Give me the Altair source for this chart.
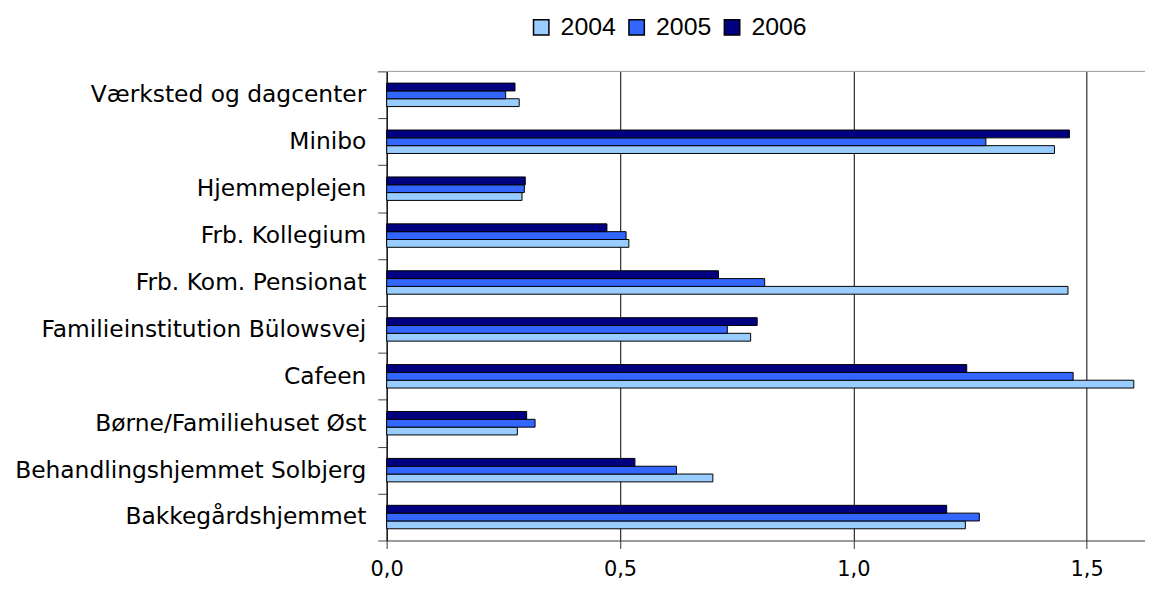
import altair as alt
import pandas as pd

categories = ["Værksted og dagcenter", "Minibo", "Hjemmeplejen", "Frb. Kollegium",
              "Frb. Kom. Pensionat", "Familieinstitution Bülowsvej", "Cafeen",
              "Børne/Familiehuset Øst", "Behandlingshjemmet Solbjerg", "Bakkegårdshjemmet"]
years = ["2004", "2005", "2006"]
v2004 = [0.284, 1.431, 0.290, 0.519, 1.460, 0.780, 1.601, 0.280, 0.699, 1.240]
v2005 = [0.255, 1.284, 0.295, 0.513, 0.810, 0.730, 1.471, 0.318, 0.621, 1.270]
v2006 = [0.275, 1.463, 0.297, 0.472, 0.711, 0.794, 1.243, 0.300, 0.532, 1.200]
colors = ["#99CCFF", "#3366FF", "#000080"]
x_ticks = [0, 0.5, 1.0, 1.5]

rows = []
for yr, vals in zip(years, [v2004, v2005, v2006]):
    for c, v in zip(categories, vals):
        rows.append({"Institution": c, "År": yr, "Værdi": v})
df = pd.DataFrame(rows)

W, H = 763, 472
STEP = H / len(categories)

bars = alt.Chart(df).mark_bar(stroke="black", strokeWidth=1).encode(
    y=alt.Y("Institution:N", sort=categories,
            scale=alt.Scale(paddingInner=0.5, paddingOuter=0.25),
            axis=alt.Axis(title=None, labelFont="DejaVu Sans",
                          labelFontSize=23.5, labelColor="black", labelLimit=500,
                          labelPadding=12, tickSize=9, tickColor="#444444",
                          tickOffset=STEP / 2, labelOffset=-STEP / 2,
                          domainColor="black", grid=False)),
    yOffset=alt.YOffset("År:N", sort=["2006", "2005", "2004"]),
    x=alt.X("Værdi:Q", scale=alt.Scale(domain=[0, 1.625], nice=False, zero=True),
            axis=alt.Axis(title=None, values=x_ticks, grid=True, gridColor="black",
                          gridOpacity=1, gridWidth=1, domainColor="#333333",
                          tickColor="#333333", tickSize=8, labelFont="DejaVu Sans",
                          labelFontSize=21, labelColor="black", labelPadding=10,
                          labelFlush=False,
                          labelExpr="replace(format(datum.value, '.1f'), '.', ',')")),
    color=alt.Color("År:N", sort=years,
                    scale=alt.Scale(domain=years, range=colors),
                    legend=alt.Legend(title=None, orient="none", legendX=143, legendY=-57,
                                      direction="horizontal", columns=3,
                                      symbolType="square", symbolSize=240,
                                      symbolStrokeColor="black", symbolStrokeWidth=1.5,
                                      symbolOpacity=1,
                                      labelFont="Liberation Sans", labelFontSize=25,
                                      labelColor="black", labelOffset=7,
                                      columnPadding=8, padding=0)),
)

border = alt.Chart(pd.DataFrame({"a": [0]})).mark_rule(color="#999999", strokeWidth=1).encode(
    x=alt.value(0), x2=alt.value(W), y=alt.value(0)
)
top_tick = alt.Chart(pd.DataFrame({"a": [0]})).mark_rule(color="#444444", strokeWidth=1).encode(
    x=alt.value(-9), x2=alt.value(0), y=alt.value(0.5)
)

chart = alt.layer(bars, border, top_tick).properties(
    width=W, height=H,
    autosize=alt.AutoSizeParams(type="none"),
    padding={"left": 381, "top": 62, "right": 0, "bottom": 44},
).configure_view(stroke=None)

chart.save("out.html", embed_options={"renderer": "svg", "actions": False})
